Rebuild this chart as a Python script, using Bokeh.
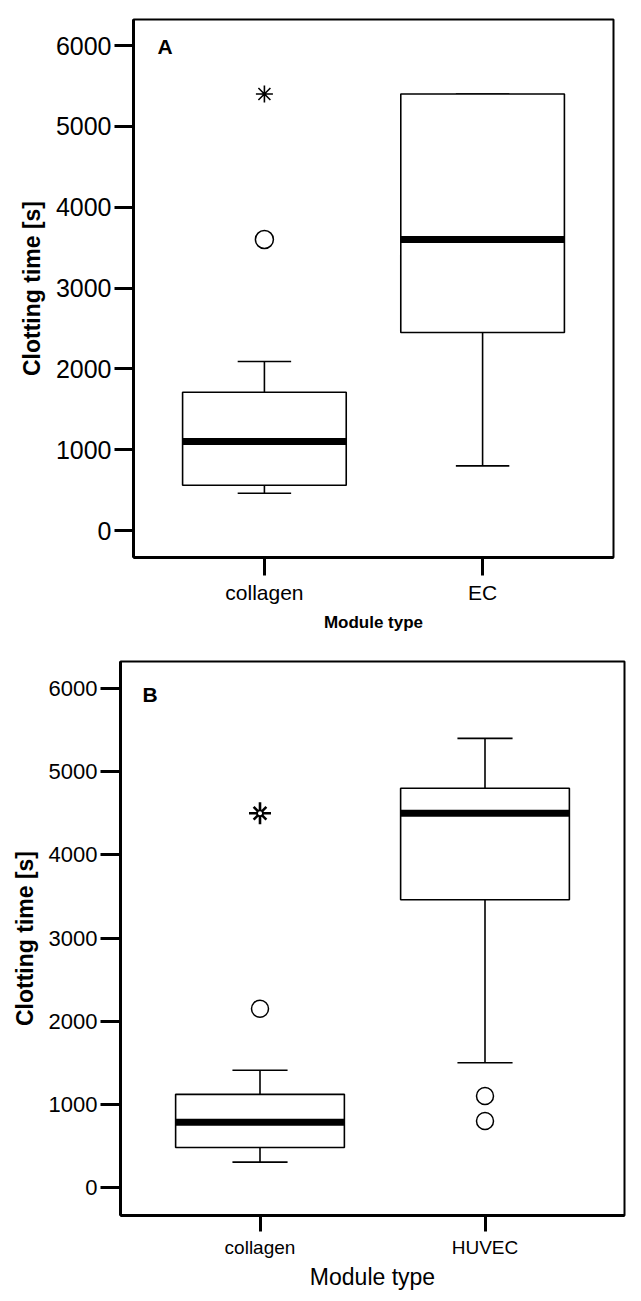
from bokeh.plotting import figure
from bokeh.models import Range1d, FactorRange, FixedTicker, Label, ColumnDataSource
from bokeh.transform import dodge
from bokeh.embed import file_html
from bokeh.resources import INLINE

# ---- Panel A data ----
categories_a = ["collagen", "EC"]
lower_a = [460, 800]
q1_a = [560, 2450]
median_a = [1100, 3600]
q3_a = [1710, 5400]
upper_a = [2090, 5400]
outlier_cat_a = ["collagen"]
outlier_val_a = [3600]
extreme_cat_a = ["collagen"]
extreme_val_a = [5400]

# ---- Panel B data ----
categories_b = ["collagen", "HUVEC"]
lower_b = [305, 1500]
q1_b = [480, 3460]
median_b = [785, 4500]
q3_b = [1120, 4800]
upper_b = [1410, 5400]
outlier_cat_b = ["collagen", "HUVEC", "HUVEC"]
outlier_val_b = [2150, 1100, 800]
extreme_cat_b = ["collagen"]
extreme_val_b = [4500]

y_ticks = [0, 1000, 2000, 3000, 4000, 5000, 6000]

FONT = "Liberation Sans"


def make_panel(cats, lower, q1, med, q3, upper, ocat, oval, ecat, eval_,
               width, height, bl, br, bt, bb, pad, yr, tick_fs, ytitle_fs,
               xlab_fs, xtitle, xtitle_fs, xtitle_style, xtitle_standoff, letter, lx, ly,
               ytick_out, xtick_out, circ_size, star_kind):
    p = figure(width=width, height=height, output_backend="svg", toolbar_location=None,
               x_range=FactorRange(factors=cats, range_padding=pad),
               y_range=Range1d(*yr),
               min_border_left=bl, min_border_right=br, min_border_top=bt, min_border_bottom=bb)
    p.xgrid.visible = False
    p.ygrid.visible = False
    p.outline_line_color = "black"
    p.outline_line_width = 2
    p.background_fill_color = "white"
    p.border_fill_color = "white"

    src = ColumnDataSource(dict(cat=cats, lower=lower, q1=q1, med=med, q3=q3, upper=upper))
    # whiskers
    p.segment(x0="cat", x1="cat", y0="q3", y1="upper", source=src, line_color="black", line_width=1.6)
    p.segment(x0="cat", x1="cat", y0="lower", y1="q1", source=src, line_color="black", line_width=1.6)
    p.segment(x0=dodge("cat", -0.1225, range=p.x_range), x1=dodge("cat", 0.1225, range=p.x_range),
              y0="upper", y1="upper", source=src, line_color="black", line_width=1.6)
    p.segment(x0=dodge("cat", -0.1225, range=p.x_range), x1=dodge("cat", 0.1225, range=p.x_range),
              y0="lower", y1="lower", source=src, line_color="black", line_width=1.6)
    # boxes
    p.vbar(x="cat", width=0.75, bottom="q1", top="q3", source=src,
           fill_color="white", line_color="black", line_width=1.6)
    # medians
    p.segment(x0=dodge("cat", -0.375, range=p.x_range), x1=dodge("cat", 0.375, range=p.x_range),
              y0="med", y1="med", source=src, line_color="black", line_width=7, line_cap="butt")
    # outliers
    p.scatter(x=ocat, y=oval, marker="circle", size=circ_size, fill_color="white",
              line_color="black", line_width=1.5)
    if star_kind == "asterisk":
        p.scatter(x=ecat, y=eval_, marker="asterisk", size=17, line_color="black", line_width=1.6)
    else:
        p.scatter(x=ecat, y=eval_, marker="cross", size=22, line_color="black", line_width=2.6)
        p.scatter(x=ecat, y=eval_, marker="x", size=18, line_color="black", line_width=2.6)
        p.scatter(x=ecat, y=eval_, marker="circle", size=7, fill_color="black", line_color="black")
        p.scatter(x=ecat, y=eval_, marker="circle", size=4, fill_color="white", line_color=None)

    # y axis
    ya = p.yaxis[0]
    ya.ticker = FixedTicker(ticks=y_ticks, minor_ticks=[])
    ya.axis_label = "Clotting time [s]"
    ya.axis_label_text_font = FONT
    ya.axis_label_text_font_style = "bold"
    ya.axis_label_text_font_size = ytitle_fs
    ya.axis_label_text_color = "black"
    ya.axis_label_standoff = 8
    ya.major_label_text_font = FONT
    ya.major_label_text_font_size = tick_fs
    ya.major_label_text_color = "black"
    ya.major_label_standoff = 3
    ya.axis_line_width = 3
    ya.axis_line_color = "black"
    ya.major_tick_line_width = 3
    ya.major_tick_line_color = "black"
    ya.major_tick_out = ytick_out
    ya.major_tick_in = 0
    ya.minor_tick_line_color = None

    # x axis
    xa = p.xaxis[0]
    xa.axis_label = xtitle
    xa.axis_label_text_font = FONT
    xa.axis_label_text_font_style = xtitle_style
    xa.axis_label_text_font_size = xtitle_fs
    xa.axis_label_text_color = "black"
    xa.axis_label_standoff = xtitle_standoff
    xa.major_label_text_font = FONT
    xa.major_label_text_font_size = xlab_fs
    xa.major_label_text_color = "black"
    xa.major_label_standoff = 5
    xa.axis_line_width = 3
    xa.axis_line_color = "black"
    xa.major_tick_line_width = 3
    xa.major_tick_line_color = "black"
    xa.major_tick_out = xtick_out
    xa.major_tick_in = 0
    xa.minor_tick_line_color = None

    p.add_layout(Label(x=lx, y=ly, text=letter, text_font=FONT, text_font_style="bold",
                       text_font_size="21px", text_color="black", text_baseline="alphabetic"))
    return p


pa = make_panel(categories_a, lower_a, q1_a, median_a, q3_a, upper_a,
                outlier_cat_a, outlier_val_a, extreme_cat_a, extreme_val_a,
                width=633, height=640, bl=133, br=20, bt=19, bb=83, pad=0.1,
                yr=(-334, 6322), tick_fs="25px", ytitle_fs="23px", xlab_fs="21px",
                xtitle="Module type", xtitle_fs="17px", xtitle_style="bold", xtitle_standoff=6,
                letter="A", lx=0.01, ly=5990, ytick_out=19, xtick_out=18, circ_size=18,
                star_kind="asterisk")

pb = make_panel(categories_b, lower_b, q1_b, median_b, q3_b, upper_b,
                outlier_cat_b, outlier_val_b, extreme_cat_b, extreme_val_b,
                width=633, height=653, bl=120, br=9, bt=21, bb=78, pad=0.12,
                yr=(-337, 6325), tick_fs="22px", ytitle_fs="23px", xlab_fs="19px",
                xtitle="Module type", xtitle_fs="23px", xtitle_style="normal", xtitle_standoff=3,
                letter="B", lx=-0.022, ly=5928, ytick_out=20, xtick_out=16, circ_size=17,
                star_kind="burst")

open("out.html", "w").write(file_html([pa, pb], INLINE))
